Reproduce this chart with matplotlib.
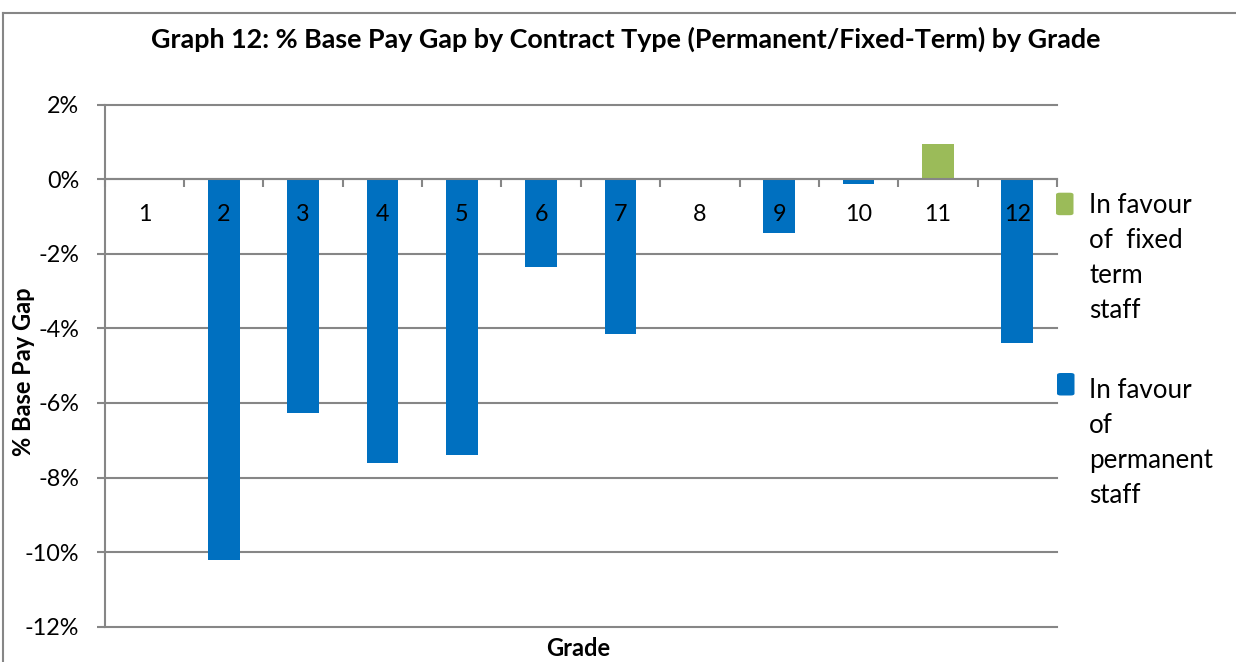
import matplotlib
matplotlib.use("Agg")
import matplotlib.pyplot as plt
from matplotlib.patches import FancyBboxPatch
from matplotlib.lines import Line2D
import numpy as np

plt.rcParams['font.family'] = ['Lato', 'DejaVu Sans']

# ---- data ----
grades = ["1", "2", "3", "4", "5", "6", "7", "8", "9", "10", "11", "12"]
fixed_term_gap = [0, 0, 0, 0, 0, 0, 0, 0.02, 0, 0, 0.95, 0]
permanent_gap = [0, -10.22, -6.26, -7.60, -7.39, -2.34, -4.16, 0, -1.43, -0.12, 0, -4.38]
series_labels = ["In favour\nof  fixed\nterm\nstaff", "In favour\nof\npermanent\nstaff"]
y_ticks = [2, 0, -2, -4, -6, -8, -10, -12]
title = "Graph 12: % Base Pay Gap by Contract Type (Permanent/Fixed-Term) by Grade"
x_label = "Grade"
y_label = "% Base Pay Gap"

green = "#9BBB59"
blue = "#0070C0"
grey = "#868686"

W, H = 1236, 662
fig = plt.figure(figsize=(W / 100, H / 100), dpi=100)
ax = fig.add_axes([104.7 / W, 1 - 626.7 / H, (1057 - 104.7) / W, (626.7 - 104.7) / H])

x = np.arange(1, len(grades) + 1)
ax.bar(x, fixed_term_gap, width=0.40, color=green, zorder=1.5)
ax.bar(x, permanent_gap, width=0.40, color=blue, zorder=1.5)

ax.set_xlim(0.5, len(grades) + 0.5)
ax.set_ylim(-12, 2)
ax.set_yticks(y_ticks)
ax.set_yticklabels([f"{v}%" for v in y_ticks])
for v in y_ticks:
    ax.axhline(v, color=grey, linewidth=1.5, zorder=0.5, clip_on=False)

ax.set_xticks(x)
ax.set_xticklabels(grades)
ax.set_xticks(np.arange(0.5, len(grades) + 1.0, 1.0), minor=True)
ax.tick_params(axis='x', which='major', length=0, pad=17.5, labelsize=16.8, labelcolor='black')
ax.tick_params(axis='x', which='minor', length=6, width=1.5, color=grey, direction='out')
ax.tick_params(axis='y', length=6, width=1.5, color=grey, direction='out', pad=12.5,
               labelsize=16.8, labelcolor='black')

for s in ['top', 'right']:
    ax.spines[s].set_visible(False)
ax.spines['bottom'].set_position(('data', 0))
ax.spines['bottom'].set_color(grey)
ax.spines['bottom'].set_linewidth(1.5)
ax.spines['left'].set_color(grey)
ax.spines['left'].set_linewidth(1.5)
ax.xaxis.set_zorder(3)

t_title = fig.text(625.5 / W, 1 - 47.3 / H, title, ha='center', va='baseline', fontsize=18.5,
                   fontweight='bold')
fig.text(578 / W, 1 - 655.7 / H, x_label, ha='center', va='baseline', fontsize=17, fontweight='bold')
fig.text(24 / W, 1 - 372 / H, y_label, ha='center', va='center', rotation=90, fontsize=17,
         fontweight='bold')

# legend (manual)
leg_colors = [green, blue]
leg_sq = [(1056, 192.7), (1057, 373.0)]
leg_baseline = [212.7, 398.3]
for col, (sx, sy), bl, lab in zip(leg_colors, leg_sq, leg_baseline, series_labels):
    fig.patches.append(FancyBboxPatch((sx / W, 1 - (sy + 22.5) / H), 17.5 / W, 22.5 / H,
                                      boxstyle="round,pad=0,rounding_size=0.003",
                                      transform=fig.transFigure, facecolor=col, edgecolor='none'))
    for i, line in enumerate(lab.split("\n")):
        fig.text(1089 / W, 1 - (bl + i * 35) / H, line, ha='left', va='baseline', fontsize=18.6)

# chart area border (top and left visible)
fig.add_artist(Line2D([3 / W, 1], [1 - 13.3 / H, 1 - 13.3 / H], transform=fig.transFigure,
                      color=grey, linewidth=1.5))
fig.add_artist(Line2D([3 / W, 3 / W], [0, 1 - 13.3 / H], transform=fig.transFigure,
                      color=grey, linewidth=1.5))

# fit title width to the reference span (~954 px)
fig.canvas.draw()
bb = t_title.get_window_extent()
t_title.set_fontsize(t_title.get_fontsize() * 954.0 / bb.width)

fig.savefig("out.png", dpi=100)
